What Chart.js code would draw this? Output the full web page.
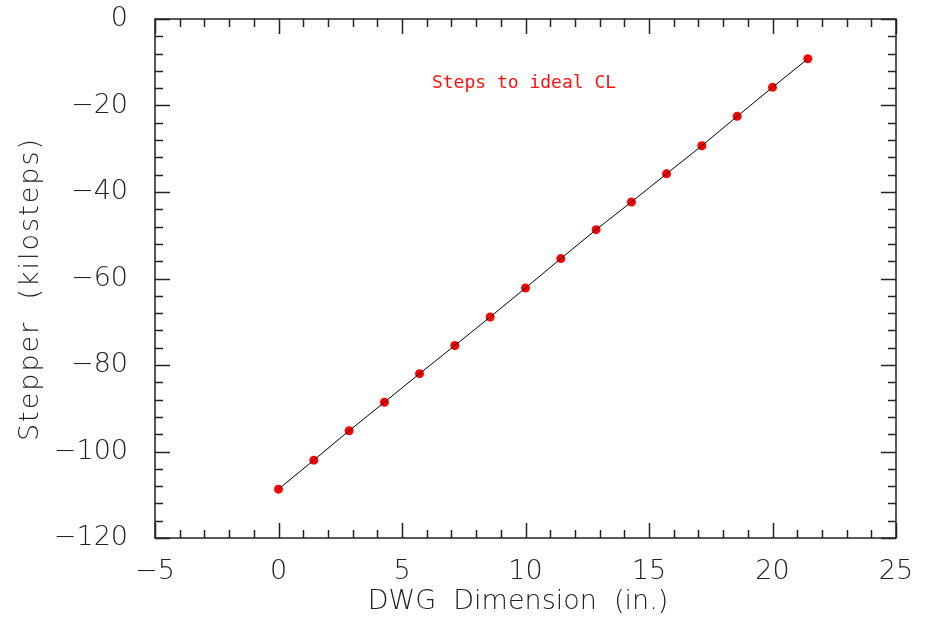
<!DOCTYPE html>
<html>
<head>
<meta charset="utf-8">
<script src="https://cdn.jsdelivr.net/npm/chart.js@4/dist/chart.umd.min.js"></script>
<style>
  html, body { margin: 0; padding: 0; background: #fff; }
  #wrap { width: 930px; height: 623px; }
</style>
</head>
<body>
<div id="wrap"><canvas id="stepChart" width="930" height="623"></canvas></div>
<script>
// measured positions along the drawing (inches) and stepper counts (kilosteps)
const dwgDimension = [0, 1.43, 2.86, 4.29, 5.71, 7.14, 8.57, 10, 11.43, 12.86, 14.29, 15.71, 17.14, 18.57, 20, 21.43];
const stepperKsteps = [-108.7, -102.0, -95.2, -88.6, -82.0, -75.5, -68.9, -62.2, -55.4, -48.7, -42.3, -35.8, -29.3, -22.5, -15.8, -9.2];

const xTicks = [-5, 0, 5, 10, 15, 20, 25];
const yTicks = [-120, -100, -80, -60, -40, -20, 0];

const labelFont = { family: 'DejaVu Sans', size: 27, weight: '200' };
const axisColor = '#222';

const pts = dwgDimension.map((x, i) => ({ x: x, y: stepperKsteps[i] }));

function minus(v) {
  return String(v).replace('-', '\u2212');
}

/** frame + inward ticks on all four sides, plus titles */
const framePlugin = {
  id: 'frame',
  afterDraw(chart) {
    const ctx = chart.ctx;
    const a = chart.chartArea;
    const xs = chart.scales.x, ys = chart.scales.y;
    ctx.save();
    ctx.strokeStyle = axisColor;
    ctx.lineWidth = 1.5;
    ctx.strokeRect(a.left, a.top, a.right - a.left, a.bottom - a.top);
    ctx.beginPath();
    for (let v = xs.min; v <= xs.max; v += 1) {
      const p = Math.round(xs.getPixelForValue(v)) + 0.5;
      const len = (v % 5 === 0) ? 15 : 8;
      ctx.moveTo(p, a.bottom); ctx.lineTo(p, a.bottom - len);
      ctx.moveTo(p, a.top); ctx.lineTo(p, a.top + len);
    }
    for (let v = ys.min; v <= ys.max; v += 4) {
      const p = Math.round(ys.getPixelForValue(v)) + 0.5;
      const len = (v % 20 === 0) ? 15 : 8;
      ctx.moveTo(a.left, p); ctx.lineTo(a.left + len, p);
      ctx.moveTo(a.right, p); ctx.lineTo(a.right - len, p);
    }
    ctx.stroke();

    // axis titles
    ctx.fillStyle = axisColor;
    ctx.font = '200 27px "DejaVu Sans"';
    ctx.textAlign = 'center';
    ctx.textBaseline = 'middle';
    ctx.fillText('DWG  Dimension  (in.)', 518, 602);
    ctx.save();
    ctx.translate(31, 289);
    ctx.rotate(-Math.PI / 2);
    ctx.letterSpacing = '2px';
    ctx.fillText('Stepper  (kilosteps)', 0, 0);
    ctx.restore();

    // annotation
    ctx.fillStyle = '#ff1010';
    ctx.font = '18px "DejaVu Sans Mono"';
    ctx.fillText('Steps to ideal CL', 524, 83);
    ctx.restore();
  }
};

function noPad(s) {
  s.paddingTop = 0; s.paddingBottom = 0;
  s.paddingLeft = 0; s.paddingRight = 0;
}

document.addEventListener("DOMContentLoaded", function () {
  const ctx = document.getElementById('stepChart').getContext('2d');
  new Chart(ctx, {
    type: 'scatter',
    data: {
      datasets: [{
        label: 'fit',
        data: pts,
        showLine: true,
        borderColor: '#000',
        borderWidth: 1,
        pointRadius: 0,
        fill: false
      }, {
        label: 'Steps to ideal CL',
        data: pts,
        showLine: false,
        pointRadius: 4.5,
        pointBackgroundColor: '#ff0000',
        pointBorderColor: '#ff0000',
        pointBorderWidth: 0
      }]
    },
    options: {
      responsive: false,
      animation: false,
      layout: { padding: { left: 0, right: 34, top: 19, bottom: 0 } },
      plugins: {
        legend: { display: false },
        tooltip: { enabled: false }
      },
      scales: {
        x: {
          type: 'linear',
          min: -5,
          max: 25,
          afterFit: s => { s.height = 85; noPad(s); },
          afterBuildTicks: s => { s.ticks = xTicks.map(v => ({ value: v })); },
          grid: { display: false, drawTicks: false },
          border: { display: false },
          ticks: {
            color: axisColor,
            font: labelFont,
            padding: 18,
            maxRotation: 0,
            callback: v => minus(v)
          }
        },
        y: {
          type: 'linear',
          min: -120,
          max: 0,
          afterFit: s => { s.width = 155; noPad(s); },
          afterBuildTicks: s => { s.ticks = yTicks.map(v => ({ value: v })); },
          grid: { display: false, drawTicks: false },
          border: { display: false },
          ticks: {
            color: axisColor,
            font: labelFont,
            padding: 27,
            callback: v => minus(v)
          }
        }
      }
    },
    plugins: [framePlugin]
  });
});
</script>
</body>
</html>
